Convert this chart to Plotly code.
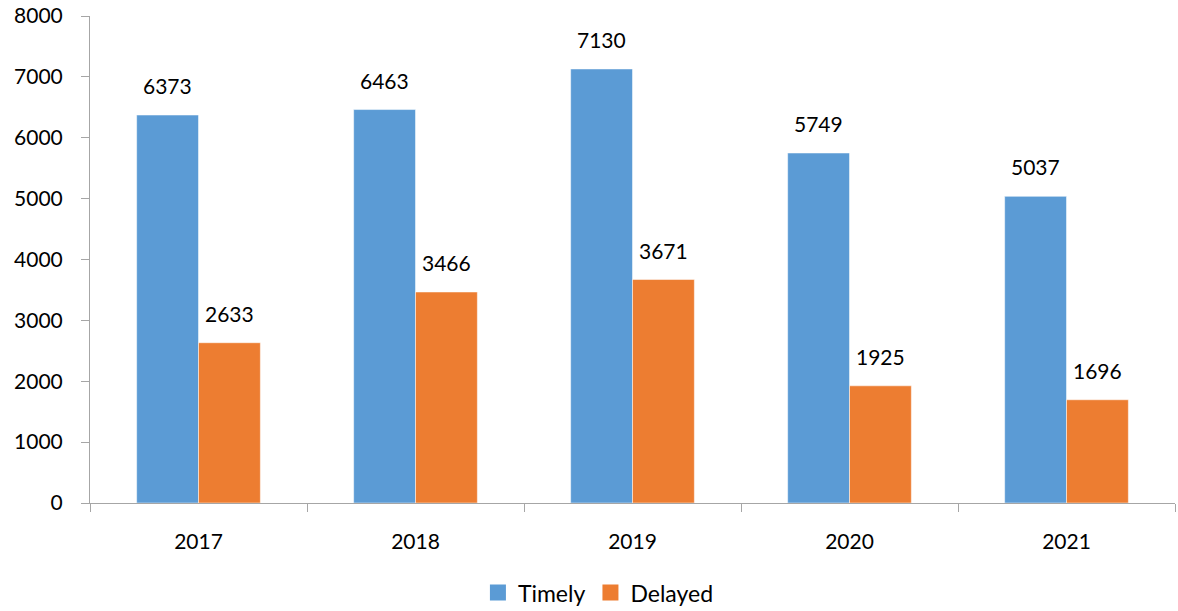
import plotly.graph_objects as go

years = ["2017", "2018", "2019", "2020", "2021"]
timely = [6373, 6463, 7130, 5749, 5037]
delayed = [2633, 3466, 3671, 1925, 1696]
y_ticks = [0, 1000, 2000, 3000, 4000, 5000, 6000, 7000, 8000]

FONT = "Lato"
BLUE = "#5B9BD5"
ORANGE = "#ED7D31"
AXIS = "#A6A6A6"

fig = go.Figure()
fig.add_trace(go.Bar(name="Timely", x=years, y=timely, showlegend=False,
                     marker=dict(color=BLUE, line=dict(color="#FFFFFF", width=0.5))))
fig.add_trace(go.Bar(name="Delayed", x=years, y=delayed, showlegend=False,
                     marker=dict(color=ORANGE, line=dict(color="#FFFFFF", width=0.5))))
# legend entries with larger square swatches
for name, col in (("Timely", BLUE), ("Delayed", ORANGE)):
    fig.add_trace(go.Scatter(name=name, x=[None], y=[None], mode="markers",
                             marker=dict(symbol="square", size=16, color=col), showlegend=True))

annotations = []
for series, shift in ((timely, -31), (delayed, 31)):
    for i, v in enumerate(series):
        annotations.append(dict(x=i, y=v, xref="x", yref="y", text=str(v), showarrow=False, xshift=shift,
                                yanchor="bottom", yshift=15, font=dict(family=FONT, size=21, color="#000000")))

fig.update_layout(
    width=1178, height=611,
    margin=dict(l=90, r=3, t=16, b=108),
    paper_bgcolor="white", plot_bgcolor="white",
    barmode="group", bargap=0.43, bargroupgap=0,
    font=dict(family=FONT, size=21, color="#000000"),
    showlegend=True,
    legend=dict(orientation="h", x=0.508, xanchor="center", xref="container",
                y=0.03, yanchor="middle", yref="container",
                font=dict(family=FONT, size=23), itemwidth=30, traceorder="normal",
                itemclick=False, itemdoubleclick=False),
    annotations=annotations,
)
fig.update_xaxes(type="category", showline=True, linecolor=AXIS, linewidth=1, ticks="outside",
                 tickson="boundaries", ticklen=8, tickcolor=AXIS, showgrid=False, automargin=False,
                 tickangle=0, ticklabelstandoff=20, tickfont=dict(family=FONT, size=21))
fig.update_yaxes(range=[0, 8000], tickvals=y_ticks, showline=True, linecolor=AXIS, linewidth=1,
                 ticks="outside", ticklen=8, tickcolor=AXIS, showgrid=False, zeroline=False,
                 automargin=False, ticklabelstandoff=14, tickfont=dict(family=FONT, size=21))

fig.write_html("out.html", config={"displayModeBar": False},
               post_script="document.body.style.margin='0';")
